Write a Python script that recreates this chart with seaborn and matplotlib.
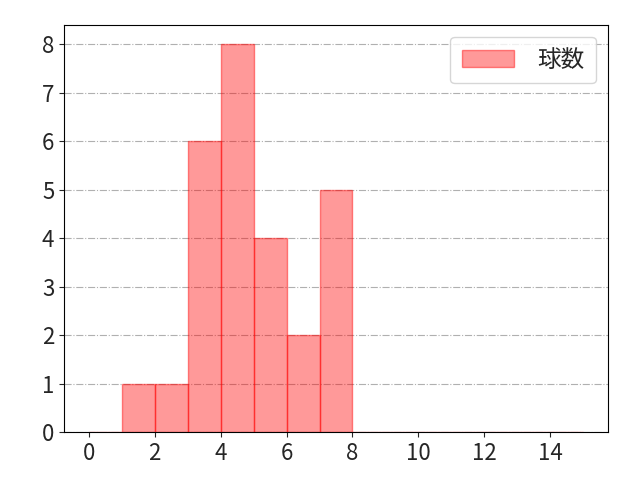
import numpy as np
import pandas as pd
import matplotlib
matplotlib.use("Agg")
import matplotlib.pyplot as plt
import seaborn as sns

# pitches per plate appearance, counted per bin of width 1
bin_edges = list(range(0, 16))
bin_lefts = [0, 1, 2, 3, 4, 5, 6, 7, 8, 9, 10, 11, 12, 13, 14]
counts = [0, 1, 1, 6, 8, 4, 2, 5, 0, 0, 0, 0, 0, 0, 0]
label = "球数"

sns.set_style("ticks")
plt.rcParams['font.family'] = ['Noto Sans CJK JP', 'DejaVu Sans']

df = pd.DataFrame({"pitches": bin_lefts, "n": counts})

fig, ax = plt.subplots(figsize=(6.4, 4.8), dpi=100)
fig.subplots_adjust(left=0.1, right=0.95, bottom=0.1, top=0.948)
ax.grid(axis='y', color='#b0b0b0', linestyle='-.', linewidth=0.8)
ax.set_axisbelow(True)

sns.histplot(data=df, x="pitches", weights="n", bins=bin_edges, ax=ax,
             color='red', alpha=0.4, edgecolor=(1, 0, 0, 0.45), linewidth=1,
             label=label)

ax.set_xlim(-0.75, 15.75)
ax.set_ylim(0, 8.4)
ax.set_xticks(range(0, 16, 2))
ax.set_yticks(range(0, 9))
ax.set_xlabel("")
ax.set_ylabel("")
ax.tick_params(labelsize=16)
for s in ax.spines.values():
    s.set_visible(True)
    s.set_color('black')

ax.legend(loc='upper right', fontsize=17, handlelength=2.2, handletextpad=1.0,
          borderpad=0.5)

fig.savefig("out.png", dpi=100)
